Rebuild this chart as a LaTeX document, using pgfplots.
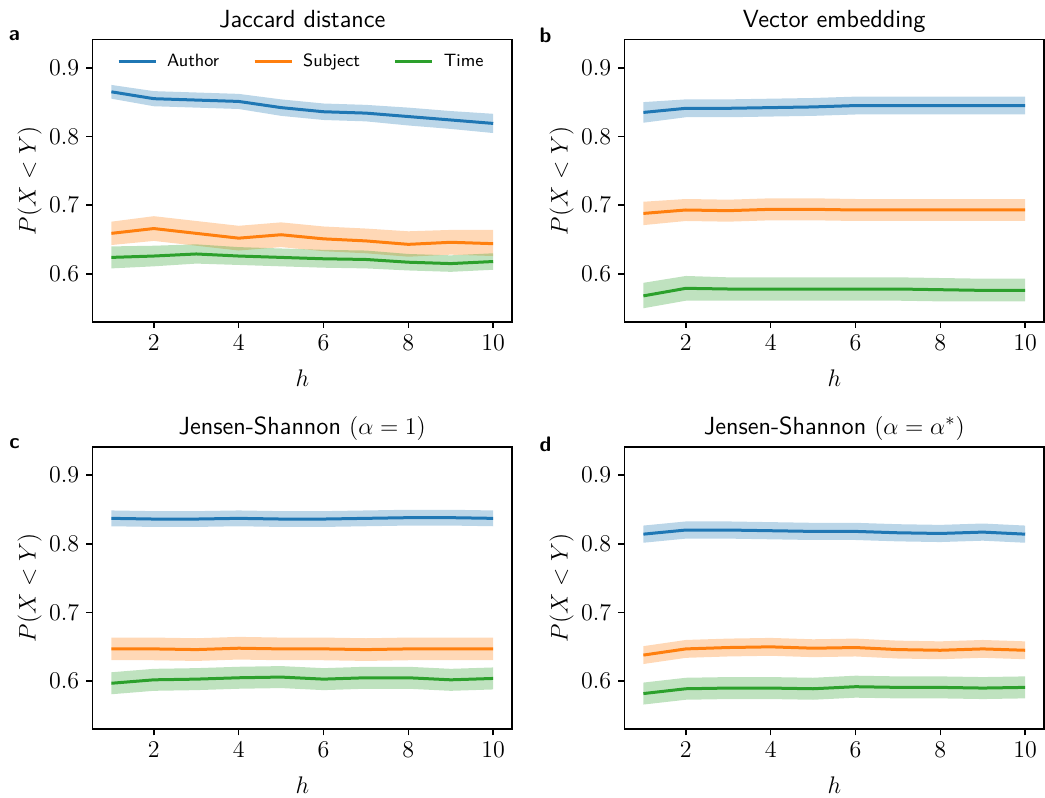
\documentclass[border=0pt]{standalone}
\usepackage{pgfplots}
\pgfplotsset{compat=1.18}
\usepackage{pgfplotstable}
\usepgfplotslibrary{fillbetween}

\definecolor{cA}{HTML}{1F77B4}
\definecolor{cS}{HTML}{FF7F0E}
\definecolor{cT}{HTML}{2CA02C}

\pgfplotstableread{
h a alo ahi s slo shi t tlo thi
1 0.865 0.855 0.875 0.659 0.642 0.676 0.624 0.608 0.640
2 0.855 0.844 0.866 0.666 0.648 0.684 0.626 0.611 0.641
3 0.853 0.842 0.864 0.659 0.641 0.677 0.629 0.615 0.643
4 0.851 0.840 0.862 0.652 0.634 0.670 0.626 0.613 0.639
5 0.842 0.830 0.854 0.657 0.639 0.675 0.624 0.611 0.637
6 0.836 0.824 0.848 0.651 0.633 0.669 0.622 0.609 0.635
7 0.834 0.822 0.846 0.648 0.630 0.666 0.621 0.608 0.634
8 0.829 0.816 0.842 0.643 0.625 0.662 0.617 0.605 0.629
9 0.824 0.811 0.837 0.646 0.628 0.664 0.615 0.603 0.627
10 0.819 0.805 0.833 0.644 0.626 0.664 0.618 0.606 0.630
}\dataA

\pgfplotstableread{
h a alo ahi s slo shi t tlo thi
1 0.835 0.820 0.850 0.688 0.671 0.705 0.568 0.550 0.587
2 0.841 0.828 0.854 0.693 0.677 0.709 0.579 0.561 0.597
3 0.841 0.828 0.854 0.692 0.676 0.708 0.578 0.561 0.595
4 0.842 0.829 0.855 0.694 0.678 0.710 0.578 0.561 0.595
5 0.843 0.830 0.856 0.694 0.678 0.710 0.578 0.561 0.595
6 0.845 0.832 0.858 0.693 0.677 0.709 0.578 0.561 0.595
7 0.845 0.832 0.858 0.693 0.677 0.709 0.578 0.561 0.595
8 0.845 0.832 0.858 0.693 0.677 0.709 0.577 0.560 0.594
9 0.845 0.832 0.858 0.693 0.677 0.709 0.576 0.560 0.593
10 0.845 0.832 0.858 0.693 0.677 0.709 0.576 0.560 0.593
}\dataB

\pgfplotstableread{
h a alo ahi s slo shi t tlo thi
1 0.837 0.8255 0.8485 0.647 0.6305 0.6635 0.597 0.581 0.613
2 0.836 0.8245 0.8475 0.647 0.6305 0.6635 0.602 0.586 0.618
3 0.836 0.8245 0.8475 0.646 0.6295 0.6625 0.603 0.587 0.619
4 0.837 0.8255 0.8485 0.648 0.6315 0.6645 0.605 0.589 0.621
5 0.836 0.8245 0.8475 0.647 0.6305 0.6635 0.606 0.590 0.622
6 0.836 0.8245 0.8475 0.647 0.6305 0.6635 0.603 0.587 0.619
7 0.837 0.8255 0.8485 0.646 0.6295 0.6625 0.605 0.589 0.621
8 0.838 0.8265 0.8495 0.647 0.6305 0.6635 0.605 0.589 0.621
9 0.838 0.8265 0.8495 0.647 0.6305 0.6635 0.602 0.586 0.618
10 0.837 0.8255 0.8485 0.647 0.6305 0.6635 0.604 0.588 0.620
}\dataC

\pgfplotstableread{
h a alo ahi s slo shi t tlo thi
1 0.814 0.8015 0.8265 0.638 0.625 0.651 0.582 0.566 0.598
2 0.820 0.8075 0.8325 0.647 0.634 0.660 0.589 0.573 0.605
3 0.820 0.8075 0.8325 0.649 0.636 0.662 0.590 0.574 0.606
4 0.819 0.8065 0.8315 0.650 0.637 0.663 0.590 0.574 0.606
5 0.818 0.8055 0.8305 0.648 0.635 0.661 0.589 0.573 0.605
6 0.818 0.8055 0.8305 0.649 0.636 0.662 0.592 0.576 0.608
7 0.816 0.8035 0.8285 0.646 0.633 0.659 0.591 0.575 0.607
8 0.815 0.8025 0.8275 0.645 0.632 0.658 0.591 0.575 0.607
9 0.817 0.8045 0.8295 0.647 0.634 0.660 0.590 0.574 0.606
10 0.814 0.8015 0.8265 0.645 0.632 0.658 0.591 0.575 0.607
}\dataD

\newcommand\series[3]{%
  \addplot[name path=up#2, draw=none, forget plot] table[x=h,y=#2hi]{#1};
  \addplot[name path=lo#2, draw=none, forget plot] table[x=h,y=#2lo]{#1};
  \addplot[fill=#3, fill opacity=0.3, draw=none, forget plot] fill between[of=up#2 and lo#2];
  \addplot[#3, line width=1.5pt, mark=none] table[x=h,y=#2]{#1};
}
\newcommand\allseries[1]{\series{#1}{a}{cA}\series{#1}{s}{cS}\series{#1}{t}{cT}}

\pgfplotsset{panel/.style={
  width=210pt, height=141.2pt, scale only axis,
  xmin=0.55, xmax=10.45, ymin=0.530, ymax=0.941,
  xtick={2,4,6,8,10}, ytick={0.6,0.7,0.8,0.9},
  tick align=outside, xtick pos=bottom, ytick pos=left,
  major tick length=3pt,
  axis line style={line width=0.8pt},
  every tick/.style={line width=0.8pt, black},
  tick label style={font=\fontsize{12}{14}\selectfont},
  label style={font=\fontsize{12}{14}\selectfont},
  xlabel={$h$}, ylabel={$P(X<Y)$},
  every axis title/.style={font=\sffamily\fontsize{12.4}{14}\selectfont, at={(axis description cs:0.5,1.044)}, anchor=base},
  x label style={at={(axis description cs:0.5,-0.198)}, anchor=center},
  y label style={at={(axis description cs:-0.1495,0.5)}, anchor=center},
}}

\begin{document}
\begin{tikzpicture}

\begin{axis}[panel, at={(46.15pt,238pt)}, anchor=south west, title={Jaccard distance},
  legend style={draw=none, fill=none, at={(0.5,0.922)}, anchor=center,
    font=\sffamily\fontsize{8.9}{10}\selectfont,
    /tikz/every even column/.append style={column sep=15pt}},
  legend columns=3,
  legend image code/.code={\draw[#1, line width=1.5pt] (0pt,0pt) -- (18.5pt,0pt); \path (21.5pt,0pt);}]
\allseries{\dataA}
\legend{Author,Subject,Time}
\end{axis}

\begin{axis}[panel, at={(312.15pt,238pt)}, anchor=south west, title={Vector embedding}]
\allseries{\dataB}
\end{axis}

\begin{axis}[panel, at={(46.15pt,34.35pt)}, anchor=south west, title={Jensen-Shannon $(\alpha=1)$}]
\allseries{\dataC}
\end{axis}

\begin{axis}[panel, at={(312.15pt,34.35pt)}, anchor=south west, title={Jensen-Shannon $(\alpha=\alpha^{*})$}]
\allseries{\dataD}
\end{axis}

\node[font=\sffamily\bfseries\fontsize{10.5}{12}\selectfont, anchor=center] at (7.2pt,381.3pt) {a};
\node[font=\sffamily\bfseries\fontsize{10.5}{12}\selectfont, anchor=center] at (272.7pt,381.3pt) {b};
\node[font=\sffamily\bfseries\fontsize{10.5}{12}\selectfont, anchor=center] at (7.2pt,177pt) {c};
\node[font=\sffamily\bfseries\fontsize{10.5}{12}\selectfont, anchor=center] at (272.7pt,177pt) {d};

\pgfresetboundingbox
\path[use as bounding box] (0,0) rectangle (522.5pt,399pt);
\end{tikzpicture}
\end{document}
